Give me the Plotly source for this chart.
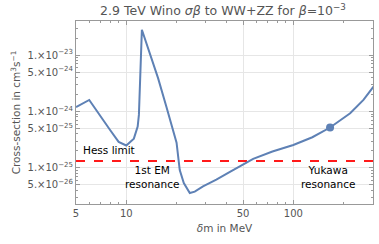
import numpy as np
import plotly.graph_objects as go

# Data
dm_mev = [5, 6, 8, 9, 10, 11.1, 11.7, 11.9, 12.4, 13.8, 15.5, 17.4, 20, 20.9, 22.1, 24,
          25.7, 28.8, 34.6, 42, 50, 57.5, 75, 100, 130, 166, 219, 263, 302]
sigma_v = [1.2e-24, 1.6e-24, 4.7e-25, 2.9e-25, 2.5e-25, 3.3e-25, 5.4e-25, 8.7e-25, 2.8e-23,
           1.07e-23, 3.9e-24, 1.2e-24, 2.8e-25, 9.2e-26, 5.4e-26, 3.6e-26,
           3.8e-26, 4.7e-26, 6.2e-26, 8.6e-26, 1.15e-25, 1.45e-25, 1.95e-25, 2.55e-25,
           3.5e-25, 5.2e-25, 9.3e-25, 1.6e-24, 2.75e-24]
marker_x = [166]
marker_y = [5.2e-25]
hess_limit = 1.33e-25

x_tickvals = [5, 10, 50, 100]
x_ticktext = ["5", "10", "50", "100"]
y_tickvals = [1e-23, 5e-24, 1e-24, 5e-25, 1e-25, 5e-26]
y_ticktext = ["1.×10<sup>−23</sup>", "5.×10<sup>−24</sup>", "1.×10<sup>−24</sup>",
              "5.×10<sup>−25</sup>", "1.×10<sup>−25</sup>", "5.×10<sup>−26</sup>"]
x_minor = [6, 7, 8, 9, 20, 30, 40, 60, 70, 80, 90, 200, 300]
y_minor = [m * 10.0 ** e for e in (-26, -25, -24, -23) for m in (2, 3, 4, 6, 7, 8, 9)]

blue = "#5E81B5"
font = "DejaVu Sans"

fig = go.Figure()
fig.add_trace(go.Scatter(x=[5, 300], y=[hess_limit, hess_limit], mode="lines",
                         line=dict(color="#FF1A1A", width=2, dash="dash"), showlegend=False))
fig.add_trace(go.Scatter(x=dm_mev, y=sigma_v, mode="lines",
                         line=dict(color=blue, width=2), showlegend=False))
fig.add_trace(go.Scatter(x=marker_x, y=marker_y, mode="markers",
                         marker=dict(color=blue, size=8), showlegend=False))

axis_common = dict(showline=True, mirror="ticks", linecolor="#999999", linewidth=1,
                   ticks="inside", ticklen=4, tickcolor="#999999",
                   gridcolor="#E6E6E6", gridwidth=1, zeroline=False,
                   tickfont=dict(family=font, size=10, color="#555555"))

fig.update_xaxes(type="log", range=[np.log10(5), np.log10(300)],
                 tickmode="array", tickvals=x_tickvals, ticktext=x_ticktext,
                 minor=dict(tickmode="array", tickvals=x_minor, ticks="inside",
                            ticklen=2, tickcolor="#999999", showgrid=False),
                 title=dict(text="<i>δ</i>m in MeV", font=dict(family=font, size=10.5, color="#555555"),
                            standoff=6),
                 **axis_common)
fig.update_yaxes(type="log", range=[np.log10(2.3e-26), np.log10(4e-23)],
                 tickmode="array", tickvals=y_tickvals, ticktext=y_ticktext,
                 minor=dict(tickmode="array", tickvals=y_minor, ticks="inside",
                            ticklen=2, tickcolor="#999999", showgrid=False),
                 title=dict(text="Cross-section in cm<sup>3</sup>s<sup>−1</sup>",
                            font=dict(family=font, size=10.5, color="#555555"), standoff=4),
                 **axis_common)

ann_font = dict(family=font, size=10.5, color="black")
fig.add_annotation(x=np.log10(7.9), y=np.log10(hess_limit), text="Hess limit", showarrow=False,
                   xref="x", yref="y", yshift=11, font=ann_font)
fig.add_annotation(x=np.log10(14.2), y=np.log10(5e-26), text="1st EM<br>resonance", showarrow=False,
                   xref="x", yref="y", yshift=8, font=ann_font)
fig.add_annotation(x=np.log10(161), y=np.log10(5e-26), text="Yukawa<br>resonance", showarrow=False,
                   xref="x", yref="y", yshift=8, font=ann_font)

fig.update_layout(
    width=379, height=244,
    margin=dict(l=76, r=6, t=21, b=40),
    paper_bgcolor="white", plot_bgcolor="white",
    title=dict(text="2.9 TeV Wino <i>σβ</i> to WW+ZZ for <i>β</i>=10<sup>−3</sup>",
               x=0.495, xanchor="center", xref="paper", y=0.955, yanchor="middle",
               font=dict(family=font, size=12.5, color="#555555")),
)

fig.write_html("out.html", config={"displayModeBar": False},
               post_script="document.body.style.margin='0';")
